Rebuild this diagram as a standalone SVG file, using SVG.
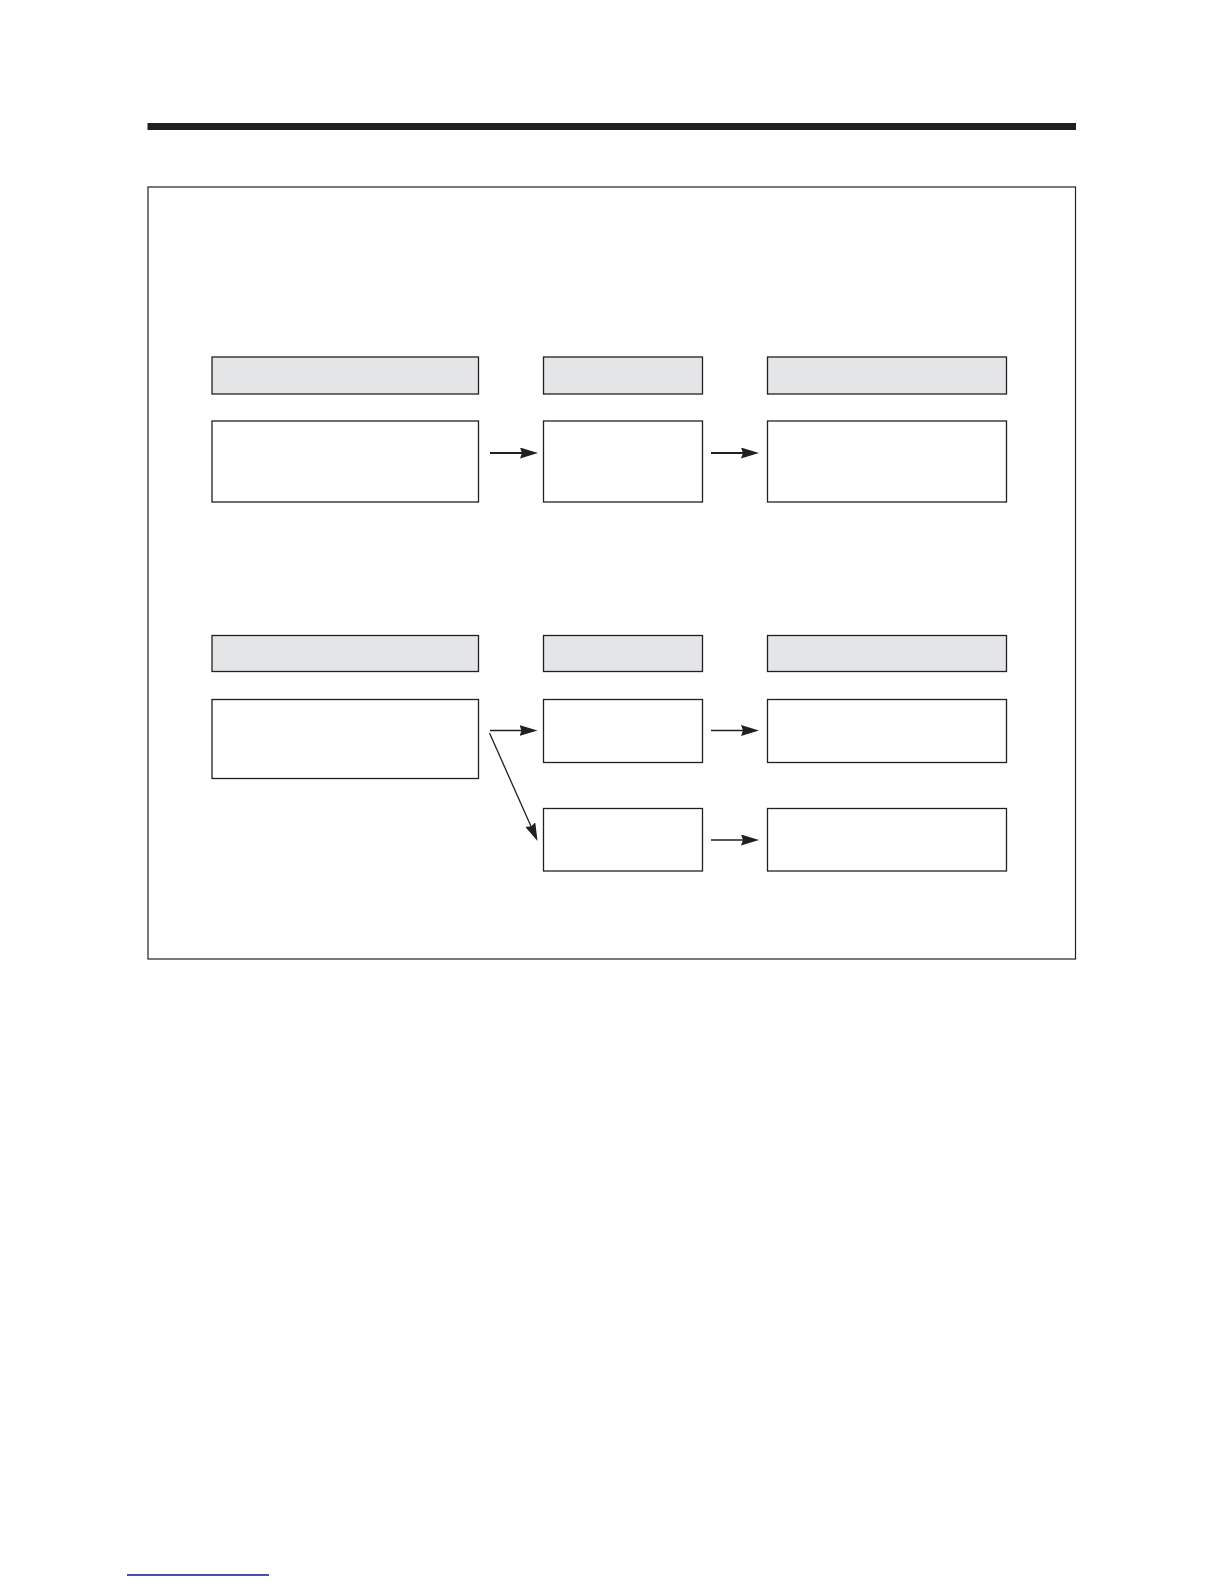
<svg xmlns="http://www.w3.org/2000/svg" width="1224" height="1584" viewBox="0 0 1224 1584">
  <style>
    .hdr { fill: #e4e5e7; stroke: #231f20; stroke-width: 1.3; }
    .box { fill: #ffffff; stroke: #231f20; stroke-width: 1.3; }
    .frame { fill: none; stroke: #231f20; stroke-width: 1.2; }
    .thick { stroke: #231f20; stroke-width: 2.2; fill: none; marker-end: url(#ah); }
    .thin { stroke: #231f20; stroke-width: 1.3; fill: none; marker-end: url(#ah); }
  </style>
  <defs>
    <marker id="ah" markerUnits="userSpaceOnUse" viewBox="0 0 18 11" refX="10" refY="5.5" markerWidth="18" markerHeight="11" orient="auto">
      <path d="M0,0 L18,5.5 L0,11 L2,5.5 Z" fill="#231f20"/>
    </marker>
  </defs>
  <rect width="1224" height="1584" fill="#ffffff"/>

  <g id="top-bar">
    <rect x="147.5" y="123" width="928.5" height="7" fill="#231f20"/>
  </g>

  <g id="frame">
    <rect class="frame" x="148" y="187" width="927.5" height="772"/>
  </g>

  <g id="row1-header-a"><rect class="hdr" x="212" y="357" width="266.5" height="37"/></g>
  <g id="row1-header-b"><rect class="hdr" x="543.5" y="357" width="159" height="37"/></g>
  <g id="row1-header-c"><rect class="hdr" x="767.5" y="357" width="239" height="37"/></g>

  <g id="row1-box-a"><rect class="box" x="212" y="421" width="266.5" height="81"/></g>
  <g id="row1-box-b"><rect class="box" x="543.5" y="421" width="159" height="81"/></g>
  <g id="row1-box-c"><rect class="box" x="767.5" y="421" width="239" height="81"/></g>

  <g id="row2-header-a"><rect class="hdr" x="212" y="635.5" width="266.5" height="36"/></g>
  <g id="row2-header-b"><rect class="hdr" x="543.5" y="635.5" width="159" height="36"/></g>
  <g id="row2-header-c"><rect class="hdr" x="767.5" y="635.5" width="239" height="36"/></g>

  <g id="row2-box-a"><rect class="box" x="212" y="699.5" width="266.5" height="79"/></g>
  <g id="row2-box-b1"><rect class="box" x="543.5" y="699.5" width="159" height="63"/></g>
  <g id="row2-box-c1"><rect class="box" x="767.5" y="699.5" width="239" height="63"/></g>
  <g id="row2-box-b2"><rect class="box" x="543.5" y="808.5" width="159" height="62.5"/></g>
  <g id="row2-box-c2"><rect class="box" x="767.5" y="808.5" width="239" height="62.5"/></g>

  <g id="connectors">
    <line class="thick" x1="490" y1="453" x2="530" y2="453"/>
    <line class="thick" x1="711" y1="453" x2="751" y2="453"/>
    <line class="thin" x1="490" y1="730.5" x2="529.5" y2="730.5"/>
    <line class="thin" x1="489.5" y1="733" x2="534.3" y2="833.7"/>
    <line class="thin" x1="711" y1="730.5" x2="751" y2="730.5"/>
    <line class="thin" x1="711" y1="840" x2="751" y2="840"/>
  </g>

  <g id="footer-line">
    <line x1="127" y1="1575" x2="269" y2="1575" stroke="#10108f" stroke-width="1.5"/>
  </g>
</svg>
